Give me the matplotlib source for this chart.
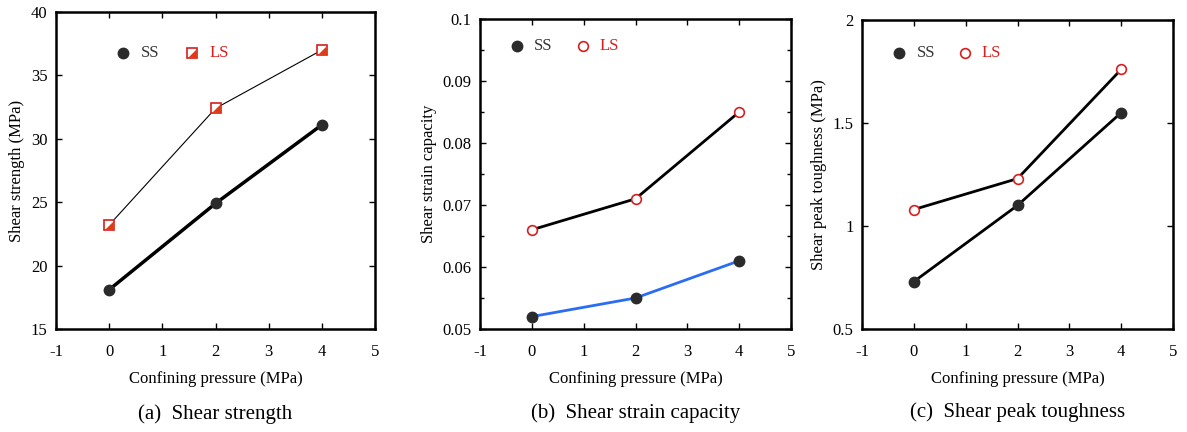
import matplotlib.pyplot as plt
from matplotlib.ticker import MultipleLocator

plt.rcParams['font.family'] = ['Liberation Serif', 'DejaVu Serif']
plt.rcParams['mathtext.fontset'] = 'stix'

# data
pressure = [0, 2, 4]
strength_ss = [18.1, 24.9, 31.1]
strength_ls = [23.2, 32.4, 37.0]
strain_ss = [0.052, 0.055, 0.061]
strain_ls = [0.066, 0.071, 0.085]
tough_ss = [0.73, 1.10, 1.55]
tough_ls = [1.08, 1.23, 1.76]

ylabels = ['Shear strength (MPa)', 'Shear strain capacity', 'Shear peak toughness (MPa)']
captions = ['(a)  Shear strength', '(b)  Shear strain capacity', '(c)  Shear peak toughness']

fig = plt.figure(figsize=(11.87, 4.32), dpi=100)
W, H = 1187, 432
boxes = [(56, 12, 375, 329), (480, 19, 791, 329), (862, 20, 1173, 329)]
axes = []
for (l, t, r, b) in boxes:
    axes.append(fig.add_axes([l / W, 1 - b / H, (r - l) / W, (b - t) / H]))

dark = '#2b2b2b'
red = '#d81e1e'
tri = [(1, -1), (1, 1), (-1, -1), (1, -1)]
fmt = plt.FuncFormatter(lambda v, p: f'{v:g}')

SS_MS = 7.5
LS_MS = 7


def style(ax):
    ax.set_xlim(-1, 5)
    ax.xaxis.set_major_locator(MultipleLocator(1))
    ax.xaxis.set_major_formatter(fmt)
    ax.yaxis.set_major_formatter(fmt)
    ax.tick_params(direction='in', top=True, right=True, labelsize=12, length=4, width=1, pad=6)
    ax.tick_params(axis='x', pad=11)
    ax.tick_params(which='minor', direction='in', top=True, right=True, length=3, width=1)
    for s in ax.spines.values():
        s.set_linewidth(1.8)
    ax.set_xlabel('Confining pressure (MPa)', fontsize=12, labelpad=8)


def legend(ax, x0, y0):
    ax.plot([x0], [y0], transform=ax.transAxes, marker='o', ms=SS_MS, color=dark)
    ax.text(x0 + 0.055, y0, 'SS', transform=ax.transAxes, fontsize=12, color='#333333', va='center')


# (a)
ax = axes[0]
ax.plot(pressure, strength_ss, color='black', lw=2.5, marker='o', ms=SS_MS, mfc=dark, mec=dark, zorder=3)
ax.plot(pressure, strength_ls, color='black', lw=0.8, marker='s', ms=LS_MS, mfc='white', mec=red, mew=1.2, zorder=3)
ax.plot(pressure, strength_ls, ls='none', marker=tri, ms=6, mfc='#e03a10', mec='none', zorder=4)
ax.set_ylim(15, 40)
ax.yaxis.set_major_locator(MultipleLocator(5))
legend(ax, 0.21, 0.87)
ax.plot([0.425], [0.87], transform=ax.transAxes, marker='s', ms=LS_MS, mfc='white', mec=red, mew=1.2, ls='none')
ax.plot([0.425], [0.87], transform=ax.transAxes, marker=tri, ms=6, mfc='#e03a10', mec='none', ls='none')
ax.text(0.48, 0.87, 'LS', transform=ax.transAxes, fontsize=12, color=red, va='center')

# (b)
ax = axes[1]
ax.plot(pressure, strain_ss, color='#2a6df4', lw=2, marker='o', ms=SS_MS, mfc=dark, mec=dark, zorder=3)
ax.plot(pressure, strain_ls, color='black', lw=2, marker='o', ms=LS_MS, mfc='white', mec=red, mew=1.2, zorder=3)
ax.set_ylim(0.05, 0.1)
ax.yaxis.set_major_locator(MultipleLocator(0.01))
ax.yaxis.set_minor_locator(MultipleLocator(0.005))
legend(ax, 0.118, 0.913)
ax.plot([0.33], [0.913], transform=ax.transAxes, marker='o', ms=LS_MS, mfc='white', mec=red, mew=1.2)
ax.text(0.385, 0.913, 'LS', transform=ax.transAxes, fontsize=12, color=red, va='center')

# (c)
ax = axes[2]
ax.plot(pressure, tough_ss, color='black', lw=2, marker='o', ms=SS_MS, mfc=dark, mec=dark, zorder=3)
ax.plot(pressure, tough_ls, color='black', lw=2, marker='o', ms=LS_MS, mfc='white', mec=red, mew=1.2, zorder=3)
ax.set_ylim(0.5, 2)
ax.yaxis.set_major_locator(MultipleLocator(0.5))
legend(ax, 0.12, 0.894)
ax.plot([0.33], [0.894], transform=ax.transAxes, marker='o', ms=LS_MS, mfc='white', mec=red, mew=1.2)
ax.text(0.385, 0.894, 'LS', transform=ax.transAxes, fontsize=12, color=red, va='center')

for ax, yl, cap in zip(axes, ylabels, captions):
    style(ax)
    ax.set_ylabel(yl, fontsize=12)
    ax.text(0.5, -0.27, cap, transform=ax.transAxes, fontsize=15, ha='center', va='center')

fig.savefig('out.png', dpi=100)
